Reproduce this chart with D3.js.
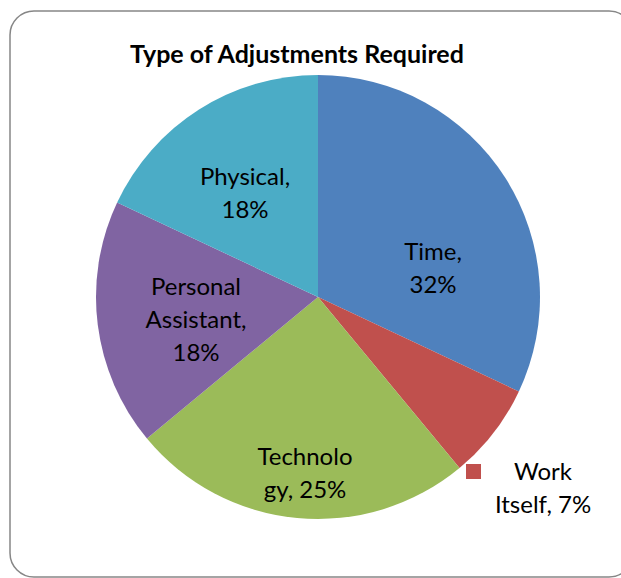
<!DOCTYPE html>
<html>
<head>
<meta charset="utf-8">
<script src="https://cdn.jsdelivr.net/npm/d3@7"></script>
<style>
  html, body { margin: 0; padding: 0; background: #fff; }
  svg { display: block; }
  text { font-family: Lato, "Open Sans", sans-serif; fill: #000; }
</style>
</head>
<body>
<svg id="chart" width="621" height="578"></svg>
<script>
// Survey results: type of adjustments required (percent)
const categories = ["Time", "Work Itself", "Technology", "Personal Assistant", "Physical"];
const values = [32, 7, 25, 18, 18];
const colors = ["#4F81BD", "#C0504D", "#9BBB59", "#8064A2", "#4BACC6"];
// label lines as wrapped in the chart
const labelLines = [
  ["Time,", "32%"],
  ["Work", "Itself, 7%"],
  ["Technolo", "gy, 25%"],
  ["Personal", "Assistant,", "18%"],
  ["Physical,", "18%"]
];
const title = "Type of Adjustments Required";

// layout: label anchor (centre x, first baseline y) for each slice
const labelAnchor = [
  [433, 260], [543, 480], [305, 465], [196, 295], [245, 185]
];

const svg = d3.select("#chart");
const W = 621, H = 578;

// outer frame
svg.append("rect")
  .attr("x", 10).attr("y", 11)
  .attr("width", W - 10 + 12).attr("height", H - 11 - 1)
  .attr("rx", 24).attr("ry", 24)
  .attr("fill", "#fff")
  .attr("stroke", "#868686").attr("stroke-width", 1.5);

// fit a text element's font size so it spans a target width
function fitSize(sel, base, target) {
  sel.attr("font-size", base);
  const w = sel.node().getComputedTextLength();
  sel.attr("font-size", base * target / w);
  return base * target / w;
}

const titleEl = svg.append("text")
  .attr("x", 297).attr("y", 63)
  .attr("text-anchor", "middle")
  .attr("font-weight", "bold")
  .text(title);
fitSize(titleEl, 20, 334);

const cx = 318, cy = 297, R = 222;
const g = svg.append("g").attr("transform", `translate(${cx},${cy})`);

const pie = d3.pie().sort(null).value(d => d.v);
const data = pie(categories.map((c, i) => ({ c, v: values[i], i })));
const arc = d3.arc().innerRadius(0).outerRadius(R);

g.selectAll("path.slice")
  .data(data)
  .enter().append("path")
  .attr("class", "slice")
  .attr("d", arc)
  .attr("fill", d => colors[d.data.i]);

// label size matched to the width of "Assistant,"
const probe = svg.append("text").text("Assistant,");
const labelSize = fitSize(probe, 20, 101);
probe.remove();

const lineH = 33;
const lbl = svg.append("g").attr("font-size", labelSize);

// legend swatch beside the outside label
svg.append("rect")
  .attr("x", 466).attr("y", 464)
  .attr("width", 15).attr("height", 15)
  .attr("fill", colors[1]);

data.forEach((d, k) => {
  const [x, y0] = labelAnchor[k];
  const t = lbl.append("text").attr("text-anchor", "middle");
  labelLines[k].forEach((s, j) => {
    t.append("tspan")
      .attr("x", x)
      .attr("y", y0 + j * lineH)
      .text(s);
  });
});
</script>
</body>
</html>
